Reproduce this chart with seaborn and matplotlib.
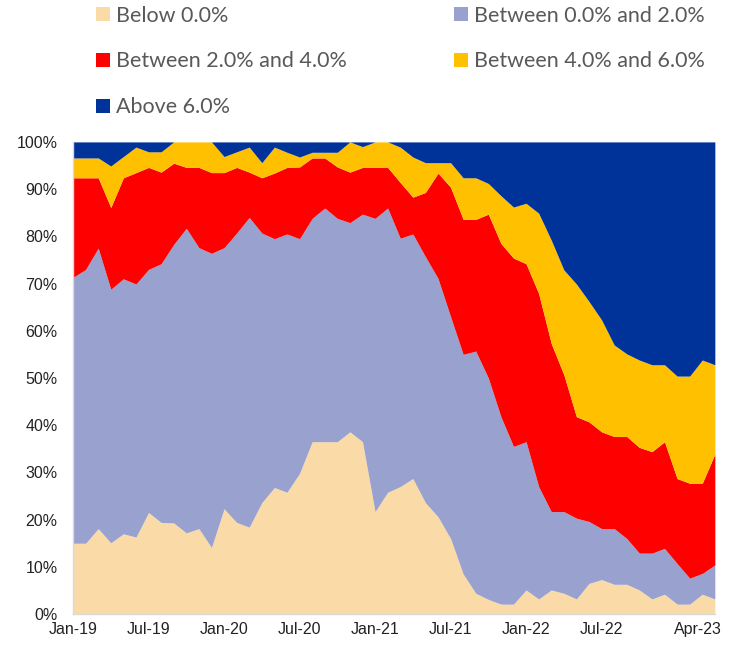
import numpy as np
import pandas as pd
import matplotlib
matplotlib.use("Agg")
import matplotlib.pyplot as plt
import matplotlib.transforms as mtransforms
from matplotlib.lines import Line2D
import seaborn as sns

# monthly shares (%), Jan-19 .. Apr-23
months = pd.date_range("2019-01-01", "2023-04-01", freq="MS")

below_0 = [15.0, 15.0, 18.1, 15.1, 17.0, 16.3, 21.5, 19.4, 19.3, 17.2, 18.1, 14.1, 22.3,
           19.4, 18.4, 23.6, 26.8, 25.8, 29.8, 36.5, 36.5, 36.5, 38.6, 36.5, 21.7, 25.8,
           27.0, 28.7, 23.6, 20.6, 16.0, 8.5, 4.4, 3.1, 2.1, 2.1, 5.1, 3.2, 5.1,
           4.4, 3.2, 6.5, 7.3, 6.3, 6.3, 5.1, 3.2, 4.2, 2.1, 2.1, 4.2, 3.2]
between_0_2 = [56.3, 58.0, 59.4, 53.7, 54.0, 53.6, 51.5, 54.8, 59.0, 64.5, 59.5, 62.3, 55.3,
               61.3, 65.6, 57.1, 52.7, 54.7, 49.7, 47.3, 49.5, 47.3, 44.3, 48.2, 62.1, 60.2,
               52.6, 51.8, 52.1, 50.5, 47.0, 46.5, 51.3, 46.9, 39.7, 33.4, 31.4, 23.8, 16.6,
               17.3, 17.1, 13.1, 10.8, 11.8, 9.7, 7.8, 9.7, 9.7, 8.6, 5.5, 4.4, 7.2]
between_2_4 = [21.1, 19.4, 14.9, 17.3, 21.4, 23.6, 21.6, 19.4, 17.2, 12.9, 17.0, 17.1, 15.9,
               13.9, 9.6, 11.7, 13.9, 14.1, 15.2, 12.8, 10.6, 10.9, 10.7, 9.9, 10.8, 8.6,
               11.8, 7.8, 13.6, 22.3, 27.4, 28.6, 27.9, 34.7, 36.7, 39.9, 37.7, 40.9, 35.6,
               29.0, 21.5, 21.1, 20.5, 19.5, 21.6, 22.4, 21.5, 22.6, 18.0, 20.1, 19.1, 23.5]
between_4_6 = [4.2, 4.2, 4.2, 8.8, 4.5, 5.4, 3.3, 4.3, 4.5, 5.4, 5.4, 6.5, 3.4,
               3.3, 5.3, 3.2, 5.5, 3.2, 2.1, 1.2, 1.2, 3.1, 6.4, 4.4, 5.4, 5.4,
               7.5, 8.5, 6.3, 2.2, 5.2, 8.8, 8.8, 6.5, 10.1, 10.8, 12.8, 17.0, 21.9,
               22.2, 28.1, 25.5, 23.7, 19.4, 17.5, 18.5, 18.4, 16.3, 21.7, 22.7, 26.1, 18.9]
above_6 = [3.4, 3.4, 3.4, 5.1, 3.1, 1.1, 2.1, 2.1, 0.0, 0.0, 0.0, 0.0, 3.1,
           2.1, 1.1, 4.4, 1.1, 2.2, 3.2, 2.2, 2.2, 2.2, 0.0, 1.0, 0.0, 0.0,
           1.1, 3.2, 4.4, 4.4, 4.4, 7.6, 7.6, 8.8, 11.4, 13.8, 13.0, 15.1, 20.8,
           27.1, 30.1, 33.8, 37.7, 43.0, 44.9, 46.2, 47.2, 47.2, 49.6, 49.6, 46.2, 47.2]

labels = ["Below 0.0%", "Between 0.0% and 2.0%", "Between 2.0% and 4.0%",
          "Between 4.0% and 6.0%", "Above 6.0%"]
colors = ["#FADBA7", "#99A1CE", "#FF0000", "#FFC000", "#003399"]

tick_pos = [0, 6, 12, 18, 24, 30, 36, 42, 51]
tick_labels = ["Jan-19", "Jul-19", "Jan-20", "Jul-20", "Jan-21", "Jul-21", "Jan-22", "Jul-22", "Apr-23"]

df = pd.DataFrame({labels[0]: below_0, labels[1]: between_0_2, labels[2]: between_2_4,
                   labels[3]: between_4_6, labels[4]: above_6}, index=months)
# normalise to 100%
df = df.div(df.sum(axis=1), axis=0) * 100

sns.set_theme(style="white")
plt.rcParams["font.family"] = ["Liberation Sans", "DejaVu Sans"]

fig = plt.figure(figsize=(7.31, 6.45), dpi=100)
ax = fig.add_axes([0.0999, 0.048, 0.878, 0.732])

x = np.arange(len(df))
ax.stackplot(x, [df[c].values for c in labels], colors=colors, linewidth=0)

ax.set_xlim(0, len(df) - 1)
ax.set_ylim(0, 100)
ax.set_yticks(np.arange(0, 101, 10))
ax.set_yticklabels([f"{v}%" for v in range(0, 101, 10)])
ax.set_xticks(tick_pos)
ax.set_xticklabels(tick_labels)
ax.tick_params(axis="both", length=0, labelsize=11.5, colors="#222222")
ax.tick_params(axis="y", pad=11)
ax.tick_params(axis="x", pad=6)

# last label sits a bit inside the plot edge
last = ax.get_xticklabels()[-1]
last.set_transform(last.get_transform() + mtransforms.ScaledTranslation(-17 / 100, 0, fig.dpi_scale_trans))

for side in ["top", "right"]:
    ax.spines[side].set_visible(False)
for side in ["left", "bottom"]:
    ax.spines[side].set_color("#D9D9D9")
    ax.spines[side].set_linewidth(1)
ax.grid(False)

# legend, row-major order like the original
order = [0, 2, 4, 1, 3]
handles = [Line2D([0], [0], marker="s", linestyle="", markersize=9.5,
                  markerfacecolor=colors[i], markeredgewidth=0) for i in order]
leg = fig.legend(handles, [labels[i] for i in order], ncol=2, loc="upper left",
                 bbox_to_anchor=(0.118, 1.008), frameon=False,
                 prop={"family": ["Lato", "DejaVu Sans"], "size": 15.5},
                 labelcolor="#595959", handlelength=0.6, handletextpad=0.3,
                 labelspacing=1.2, columnspacing=5.0, borderpad=0)

fig.savefig("out.png", dpi=100)
